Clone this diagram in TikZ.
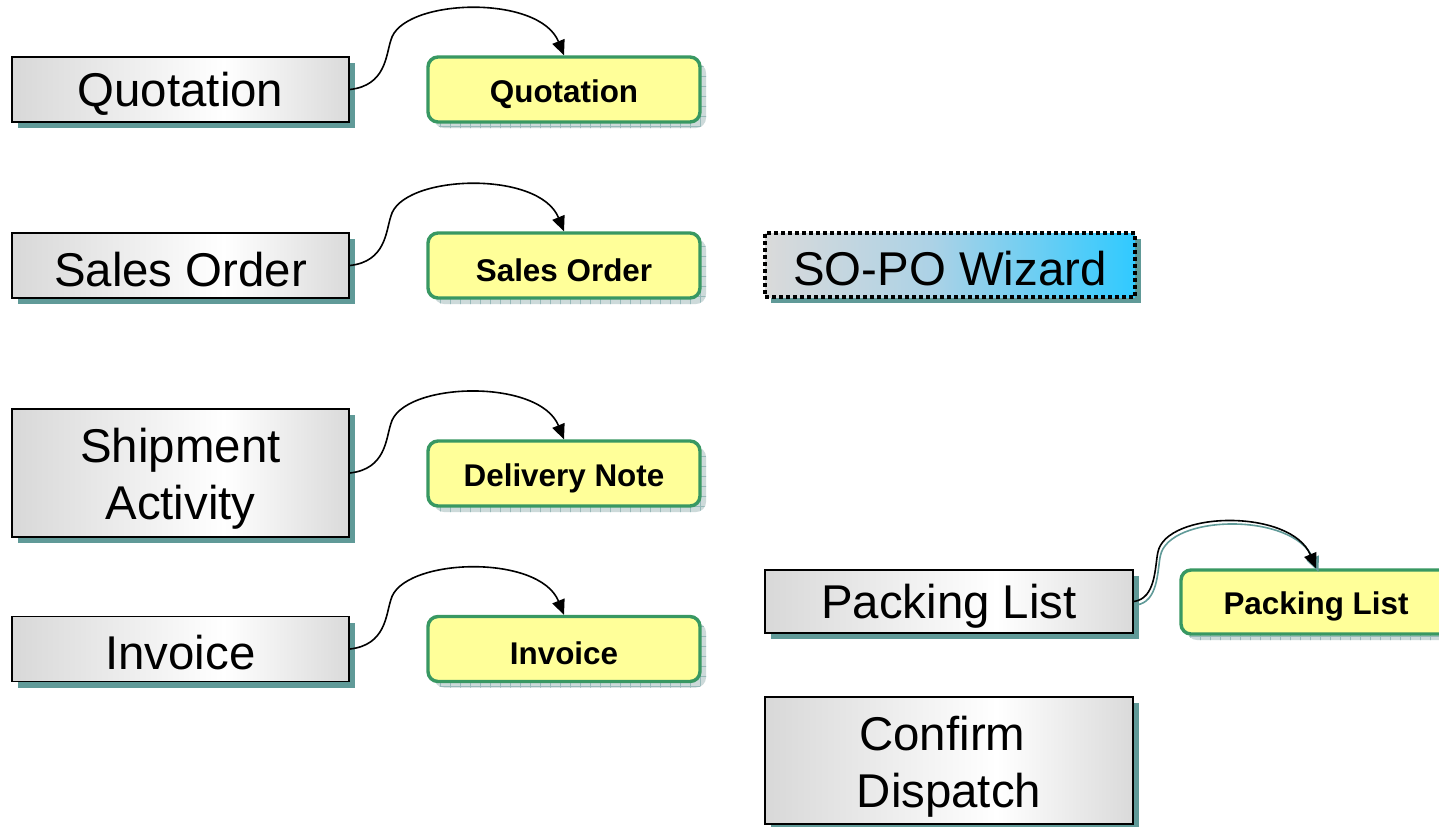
\documentclass[tikz,border=0pt]{standalone}
\usepackage{fontspec}
\setmainfont{Liberation Sans}
\usetikzlibrary{arrows.meta,shadows,patterns.meta,calc}
\definecolor{gl}{RGB}{216,216,216}
\definecolor{gr}{RGB}{218,218,218}
\definecolor{shcol}{RGB}{96,154,152}
\definecolor{yfill}{RGB}{255,255,153}
\definecolor{ygreen}{RGB}{56,152,98}
\definecolor{yshad}{RGB}{205,218,218}
\definecolor{ygrid}{RGB}{150,185,185}
\definecolor{sg}{RGB}{218,218,218}
\definecolor{sm}{RGB}{172,210,230}
\definecolor{sc}{RGB}{48,202,255}
\newcommand{\lowr}[2]{\raisebox{-#1}[\height][\depth]{#2}}
\tikzset{
  bigtxt/.style={font=\fontsize{23.7pt}{28.5pt}\selectfont, align=center, inner sep=0pt},
  grayshade/.style={path picture={
     \coordinate (ppsw) at (path picture bounding box.south west);
     \coordinate (ppne) at (path picture bounding box.north east);
     \coordinate (ppm) at ($(ppsw)!0.63!(ppsw -| ppne)$);
     \shade[left color=gl, right color=white] (ppsw) rectangle (ppm |- ppne);
     \shade[left color=white, right color=gr] (ppm) rectangle (ppne);
  }},
  wizshade/.style={path picture={
     \coordinate (ppsw) at (path picture bounding box.south west);
     \coordinate (ppne) at (path picture bounding box.north east);
     \coordinate (ppm) at ($(ppsw)!0.45!(ppsw -| ppne)$);
     \shade[left color=sg, right color=sm] (ppsw) rectangle (ppm |- ppne);
     \shade[left color=sm, right color=sc] (ppm) rectangle (ppne);
  }},
  graybox/.style={bigtxt, draw=black, line width=0.8pt, grayshade,
    drop shadow={shadow xshift=3pt, shadow yshift=-3pt, fill=shcol, opacity=1},
    minimum width=168.5pt, minimum height=32.5pt},
  ybox/.style={draw=ygreen, line width=1.7pt, fill=yfill, rounded corners=5pt,
    font=\fontsize{15.7pt}{18pt}\selectfont\bfseries, inner sep=0pt,
    drop shadow={shadow xshift=3pt, shadow yshift=-3pt, fill=yshad, opacity=1},
    drop shadow={shadow xshift=3pt, shadow yshift=-3pt, pattern={Hatch[angle=0,distance=5pt,line width=0.4pt]}, pattern color=ygrid, opacity=1},
    minimum width=136pt, minimum height=32.5pt},
  wizbox/.style={bigtxt, draw=black, line width=1.8pt, dash pattern=on 2pt off 1.5pt,
    wizshade,
    drop shadow={shadow xshift=3pt, shadow yshift=-3pt, fill=shcol, opacity=1},
    minimum width=185pt, minimum height=32pt},
  conn/.style={line width=0.8pt, -{Triangle[length=7.5pt,width=6.5pt]}}
}
\begin{document}
\begin{tikzpicture}[x=0.5pt,y=-0.5pt]
\clip (0,0) rectangle (1439,826);
\fill[white] (0,0) rectangle (1439,826);
% left column
\node[graybox] (q1) at (180.5,89.5) {\lowr{2pt}{Quotation}};
\node[ybox] (q2) at (564,89.5) {\lowr{2.2pt}{Quotation}};
\node[graybox] (s1) at (180.5,265.5) {\lowr{2pt}{Sales Order}};
\node[ybox] (s2) at (564,265.5) {\lowr{2.2pt}{Sales Order}};
\node[graybox, minimum height=64pt] (d1) at (180.5,473) {\lowr{3.5pt}{\begin{tabular}{@{}c@{}}Shipment\\Activity\end{tabular}}};
\node[ybox] (d2) at (564,473.5) {\lowr{2.2pt}{Delivery Note}};
\node[graybox] (i1) at (180.5,649) {\lowr{2pt}{Invoice}};
\node[ybox] (i2) at (564,649) {\lowr{2.2pt}{Invoice}};
% right column
\node[wizbox] (w) at (950,265) {\lowr{2pt}{SO-PO Wizard}};
\node[graybox, minimum width=184pt, minimum height=31.5pt] (p1) at (949,601.5) {\lowr{2.2pt}{Packing List}};
\node[ybox, minimum width=135pt, minimum height=32pt] (p2) at (1316,602) {\lowr{2.2pt}{Packing List}};
\node[graybox, minimum width=184pt, minimum height=63.5pt] (c1) at (949,760.5) {\lowr{3.5pt}{\begin{tabular}{@{}c@{}}Confirm\rule{.28em}{0pt}\\Dispatch\end{tabular}}};
% connectors
\foreach \a/\b in {q1/q2, s1/s2, d1/d2, i1/i2}{
  \draw[conn] (\a.east) .. controls +(36,-4) and +(-5,15) .. ++(41,-49)
     .. controls +(10,-42) and +(-25,-62) .. (\b.north);
}
\draw[conn, draw=shcol] ([shift={(2.5,3.5)}]p1.east) .. controls +(22,-3) and +(-3,15) .. ++(24,-49)
     .. controls +(8,-42) and +(-25,-60) .. ([shift={(2.5,3.5)}]p2.north);
\draw[conn] (p1.east) .. controls +(22,-3) and +(-3,15) .. ++(24,-49)
     .. controls +(8,-42) and +(-25,-60) .. (p2.north);
\end{tikzpicture}
\end{document}
